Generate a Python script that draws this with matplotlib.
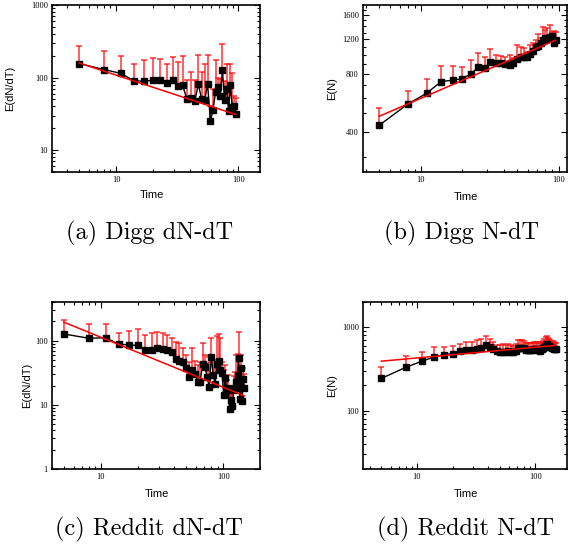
import numpy as np
import matplotlib
matplotlib.use("Agg")
import matplotlib.pyplot as plt
from matplotlib.ticker import FixedLocator, NullFormatter, FixedFormatter, LogLocator

# ---------------- data ----------------
digg_time = [5, 8, 11, 14, 17, 20, 23, 26, 29, 32, 35, 38, 41, 44, 47, 50, 53, 56, 59, 62,
             65, 68, 71, 74, 77, 80, 83, 86, 89, 92, 95]
reddit_time = [5, 8, 11, 14, 17, 20, 23, 26, 29, 32, 35, 38, 41, 44, 47, 50, 53, 56, 59, 62,
               65, 68, 71, 74, 77, 80, 83, 86, 89, 92, 95, 98, 101, 104, 107, 110, 113, 116,
               119, 122, 125, 128, 131, 134, 137, 140, 143, 146, 149]

digg_dn = [156, 129, 114, 90, 89, 92, 92, 85, 92, 76, 78, 50, 53, 47, 81, 51, 49, 81, 25, 36,
           63, 73, 55, 126, 49, 70, 35, 78, 39, 40, 31]
digg_dn_err = [270, 233, 199, 153, 177, 186, 183, 153, 192, 164, 197, 92, 119, 94, 203, 119,
               155, 203, 40, 70, 173, 100, 97, 294, 90, 156, 60, 156, 116, 55, 53]
digg_dn_fit = (388.0, -0.555)

digg_n = [435, 557, 634, 727, 741, 753, 796, 861, 851, 914, 903, 903, 895, 885, 910, 947, 969,
          977, 969, 1009, 1048, 1099, 1109, 1144, 1189, 1213, 1199, 1227, 1246, 1150, 1185]
digg_n_err = [535, 652, 748, 879, 879, 867, 940, 1016, 977, 1066, 995, 985, 977, 995, 958, 1122,
              1099, 1078, 1035, 1122, 1144, 1189, 1285, 1213, 1393, 1339, 1366, 1419, 1311,
              1325, 1311]
digg_n_fit = (296.0, 0.305)

reddit_dn = [127, 109, 111, 88, 86, 84, 71, 71, 76, 73, 71, 66, 52, 49, 47, 37, 27, 35, 30, 23,
             23, 44, 39, 27, 19, 56, 29, 21, 44, 49, 35, 31, 14, 26, 17, 18, 8.7, 11.7, 9.5, 17,
             18, 23, 29, 53, 12.5, 37, 11.5, 25, 18]
reddit_dn_err = [211, 183, 183, 133, 143, 151, 123, 133, 138, 130, 123, 109, 94, 91, 76, 60, 47,
                 76, 48, 42, 47, 91, 60, 45, 56, 109, 50, 38, 118, 126, 109, 47, 35, 42, 24, 29,
                 15, 20, 17, 28, 33, 60, 63, 138, 19, 60, 20, 37, 30]
reddit_dn_fit = (681.0, -0.78)

reddit_n = [243, 329, 391, 440, 469, 482, 514, 538, 530, 553, 569, 605, 578, 543, 514, 505, 510,
            508, 512, 505, 500, 515, 560, 565, 560, 555, 530, 528, 530, 535, 532, 540, 545, 540,
            530, 525, 540, 560, 580, 610, 625, 600, 590, 580, 560, 570, 545, 550, 540]
reddit_n_err = [334, 448, 504, 578, 578, 588, 634, 663, 655, 708, 728, 782, 728, 663, 617, 615,
                620, 615, 620, 610, 600, 620, 700, 710, 700, 690, 650, 640, 640, 650, 650, 660,
                665, 660, 650, 640, 660, 690, 720, 760, 790, 740, 720, 700, 680, 690, 660, 650, 640]
reddit_n_fit = (318.0, 0.1286)

captions = ["(a) Digg dN-dT", "(b) Digg N-dT", "(c) Reddit dN-dT", "(d) Reddit N-dT"]
ylabels = ["E(dN/dT)", "E(N)", "E(dN/dT)", "E(N)"]
xlabel = "Time"

# ---------------- figure ----------------
W, H = 568, 546
fig = plt.figure(figsize=(W / 100, H / 100), dpi=100)

def box(l, r, t, b):
    return [l / W, 1 - b / H, (r - l) / W, (b - t) / H]

panels = [
    dict(rect=box(52, 260, 5, 172), x=digg_time, y=digg_dn, e=digg_dn_err, fit=digg_dn_fit,
         xlim=(3, 150), ylim=(5, 1000), yticks=[10, 100, 1000], ylab_x=-0.178,
         xlab=(0.48, -0.108), cap=(150, 233)),
    dict(rect=box(363, 567, 5, 172), x=digg_time, y=digg_n, e=digg_n_err, fit=digg_n_fit,
         xlim=(3.8, 115), ylim=(250, 1800), yticks=[400, 800, 1200, 1600], ylab_x=-0.128,
         xlab=(0.507, -0.118), cap=(462, 233)),
    dict(rect=box(52, 260, 302, 469), x=reddit_time, y=reddit_dn, e=reddit_dn_err,
         fit=reddit_dn_fit, xlim=(4, 200), ylim=(1, 400), yticks=[1, 10, 100], ylab_x=-0.096,
         xlab=(0.503, -0.117), cap=(149, 529)),
    dict(rect=box(363, 567, 302, 469), x=reddit_time, y=reddit_n, e=reddit_n_err,
         fit=reddit_n_fit, xlim=(3.5, 185), ylim=(20, 2000), yticks=[100, 1000], ylab_x=-0.128,
         xlab=(0.507, -0.117), cap=(466, 529)),
]

tick_font = "Liberation Serif"
label_font = "Liberation Sans"

for i, p in enumerate(panels):
    ax = fig.add_axes(p["rect"])
    x = np.array(p["x"], dtype=float)
    y = np.array(p["y"], dtype=float)
    e = np.array(p["e"], dtype=float)
    ax.errorbar(x, y, yerr=[np.zeros_like(y), e - y], fmt="none", ecolor="#ff1010",
                elinewidth=1.1, capsize=2.2, capthick=1.1, alpha=0.85, zorder=2)
    ax.plot(x, y, "-", color="black", lw=1.0, zorder=3)
    ax.plot(x, y, "s", color="black", ms=4.6, mec="black", zorder=4)
    a, b = p["fit"]
    xf = np.geomspace(x[0], x[-1], 60)
    ax.plot(xf, a * xf ** b, "-", color="#ff0000", lw=1.1, zorder=5)

    ax.set_xscale("log")
    ax.set_yscale("log")
    ax.set_xlim(*p["xlim"])
    ax.set_ylim(*p["ylim"])

    ax.xaxis.set_major_locator(FixedLocator([10, 100]))
    ax.xaxis.set_major_formatter(FixedFormatter(["10", "100"]))
    ax.xaxis.set_minor_locator(LogLocator(base=10, subs=np.arange(2, 10)))
    ax.xaxis.set_minor_formatter(NullFormatter())

    ax.yaxis.set_major_locator(FixedLocator(p["yticks"]))
    ax.yaxis.set_major_formatter(FixedFormatter([str(t) for t in p["yticks"]]))
    if i == 1:
        ax.yaxis.set_minor_locator(FixedLocator(np.arange(300, 1800, 100)))
    else:
        ax.yaxis.set_minor_locator(LogLocator(base=10, subs=np.arange(2, 10)))
    ax.yaxis.set_minor_formatter(NullFormatter())

    ax.tick_params(which="both", direction="in", top=True, right=True, width=0.8)
    ax.tick_params(which="major", length=4, labelsize=6, pad=3)
    ax.tick_params(which="minor", length=2)
    for lab in ax.get_xticklabels() + ax.get_yticklabels():
        lab.set_fontfamily(tick_font)
    for s in ax.spines.values():
        s.set_linewidth(1.2)

    ax.set_ylabel(ylabels[i], fontsize=8, fontfamily=label_font)
    ax.set_xlabel(xlabel, fontsize=8, fontfamily=label_font)
    ax.yaxis.set_label_coords(p["ylab_x"], 0.5)
    ax.xaxis.set_label_coords(*p["xlab"])

    cx, cy = p["cap"]
    fig.text(cx / W, 1 - cy / H, captions[i], ha="center", va="center",
             fontsize=17.5, fontfamily="cmr10")

fig.savefig("out.png", dpi=100)
